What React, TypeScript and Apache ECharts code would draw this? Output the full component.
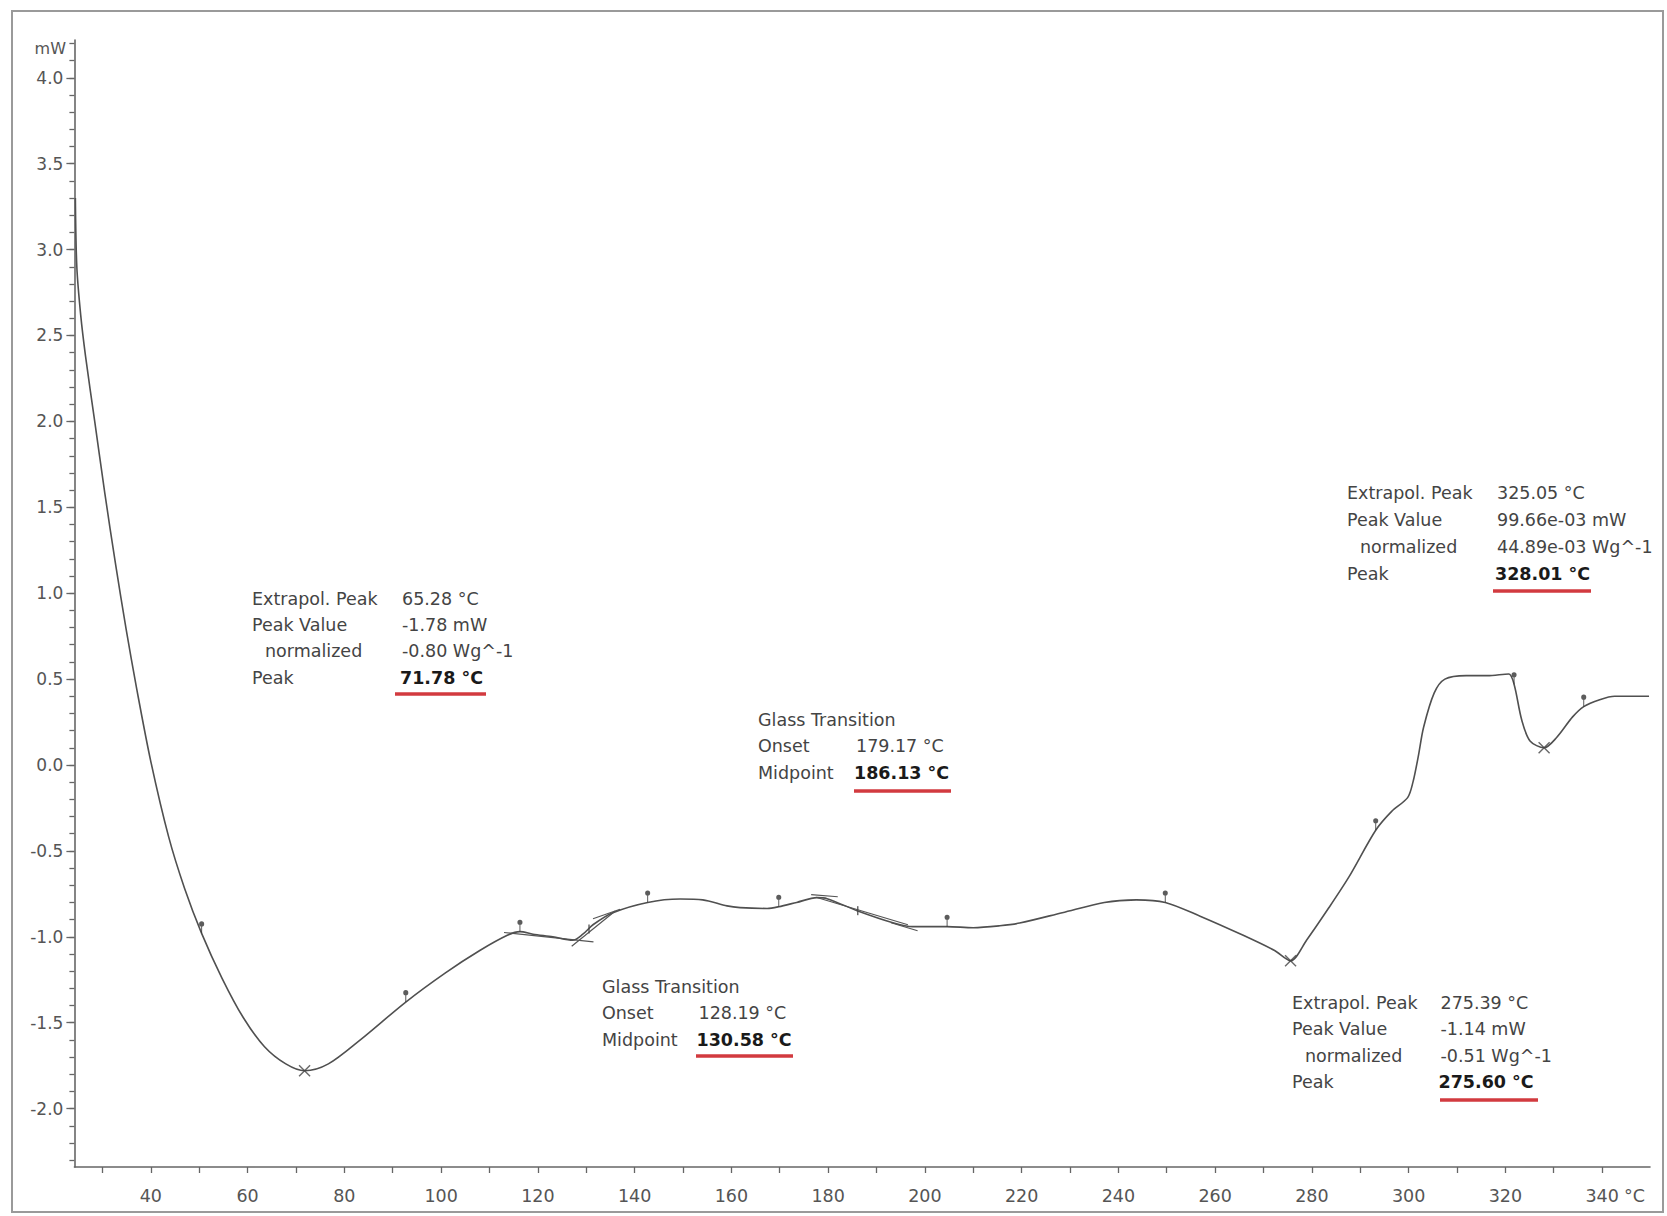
import React, { useEffect, useRef } from "react";
import * as echarts from "echarts";

// ---- data (°C, mW) ----
const temps = [
  24.4, 24.7, 25.5, 26.5, 28.4, 30.5, 32.7, 34.9, 37.1, 40.0, 43.7, 47.0, 50.5, 54.7, 59.1, 63.5, 67.9, 71.8,
  76.7, 83.3, 92.7, 100.9, 108.0, 113.8, 116.3, 119.0, 123.1, 127.2, 129.3, 131.4, 135.5, 142.7, 149.4, 154.1,
  159.1, 161.8, 167.4, 169.8, 173.5, 177.7, 179.8, 186.0, 193.4, 197.5, 204.6, 210.0, 215.5, 219.6, 228.4,
  237.1, 243.7, 249.7, 256.9, 265.7, 272.3, 275.6, 278.9, 283.3, 287.7, 293.2, 296.5, 299.8, 300.9, 302.0,
  303.1, 305.3, 307.5, 311.9, 316.3, 320.7, 321.8, 323.4, 325.1, 328.0, 330.6, 333.9, 336.2, 339.5, 342.6, 349.7,
];
const heat = [
  3.3, 2.9, 2.62, 2.38, 2.0, 1.58, 1.17, 0.79, 0.44, 0.02, -0.42, -0.72, -0.98, -1.24, -1.47, -1.64, -1.74, -1.78,
  -1.74, -1.6, -1.38, -1.21, -1.08, -0.99, -0.97, -0.985, -1.0, -1.02, -0.985, -0.93, -0.86, -0.8, -0.78, -0.785,
  -0.82, -0.83, -0.835, -0.825, -0.8, -0.772, -0.778, -0.848, -0.918, -0.941, -0.941, -0.947, -0.936, -0.92, -0.86,
  -0.8, -0.785, -0.8, -0.88, -0.99, -1.08, -1.14, -1.02, -0.84, -0.65, -0.38, -0.27, -0.19, -0.1, 0.05,
  0.22, 0.42, 0.5, 0.52, 0.52, 0.53, 0.47, 0.26, 0.14, 0.1, 0.16, 0.28, 0.34, 0.38, 0.4, 0.4,
];

const flagT = [50.5, 92.7, 116.3, 142.7, 169.8, 204.6, 249.7, 293.2, 321.8, 336.2];
const flagV = [-0.98, -1.38, -0.97, -0.8, -0.825, -0.941, -0.8, -0.38, 0.47, 0.34];

const peakT = [71.78, 275.6, 328.01];
const peakV = [-1.78, -1.14, 0.0997];

const midT = [130.58, 186.13];
const midV = [-0.955, -0.848];

// tangent construction lines of the glass transitions
const tangent1a = [[113.0, -0.975], [131.5, -1.03]];
const tangent1b = [[127.0, -1.055], [136.0, -0.85]];
const tangent1c = [[131.4, -0.895], [137.0, -0.84]];
const tangent2a = [[176.5, -0.755], [182.0, -0.767]];
const tangent2b = [[177.5, -0.77], [196.5, -0.93]];
const tangent2c = [[193.0, -0.918], [198.5, -0.965]];

const xLabelValues = [40, 60, 80, 100, 120, 140, 160, 180, 200, 220, 240, 260, 280, 300, 320, 340];
const xTickValues = [30, 40, 50, 60, 70, 80, 90, 100, 110, 120, 130, 140, 150, 160, 170, 180, 190, 200, 210, 220, 230, 240, 250, 260, 270, 280, 290, 300, 310, 320, 330, 340];
const yLabelValues = [-2.0, -1.5, -1.0, -0.5, 0.0, 0.5, 1.0, 1.5, 2.0, 2.5, 3.0, 3.5, 4.0];
const yMinorValues: number[] = [];
for (let k = -23; k <= 42; k++) yMinorValues.push(k / 10);

// annotation blocks
const peak1Rows = [["Extrapol. Peak", "65.28 °C"], ["Peak Value", "-1.78 mW"], ["  normalized", "-0.80 Wg^-1"], ["Peak", "71.78 °C"]];
const peak2Rows = [["Extrapol. Peak", "325.05 °C"], ["Peak Value", "99.66e-03 mW"], ["  normalized", "44.89e-03 Wg^-1"], ["Peak", "328.01 °C"]];
const peak3Rows = [["Extrapol. Peak", "275.39 °C"], ["Peak Value", "-1.14 mW"], ["  normalized", "-0.51 Wg^-1"], ["Peak", "275.60 °C"]];
const glass1Rows = [["Glass Transition", ""], ["Onset", "128.19 °C"], ["Midpoint", "130.58 °C"]];
const glass2Rows = [["Glass Transition", ""], ["Onset", "179.17 °C"], ["Midpoint", "186.13 °C"]];

const FONT = "DejaVu Sans";
const TXT = "#444";

function block(rows: string[][], lx: number, vx: number, ys: number[], ul: number[]) {
  const els: any[] = [];
  rows.forEach((r, i) => {
    const last = i === rows.length - 1;
    const indent = r[0].startsWith("  ");
    els.push({
      type: "text",
      x: lx + (indent ? 13 : 0),
      y: ys[i],
      style: { text: r[0].trim(), fontFamily: FONT, fontSize: 17.5, fill: TXT, align: "left", verticalAlign: "middle" },
      z: 10,
    });
    if (r[1]) {
      els.push({
        type: "text",
        x: last ? vx - 2 : vx,
        y: ys[i],
        style: {
          text: r[1],
          fontFamily: FONT,
          fontSize: 17.5,
          fontWeight: last ? "bold" : "normal",
          fill: last ? "#1a1a1a" : TXT,
          align: "left",
          verticalAlign: "middle",
        },
        z: 10,
      });
    }
  });
  els.push({
    type: "line",
    shape: { x1: ul[0], y1: ul[2], x2: ul[1], y2: ul[2] },
    style: { stroke: "#d23a3f", lineWidth: 3.5 },
    z: 10,
  });
  return els;
}

const xSymbol = "path://M0,0L10,10M10,0L0,10";
const flagSymbol = "path://M3,0A3,3 0 1 1 3,6A3,3 0 1 1 3,0ZM2.4,5L3.6,5L3.6,14L2.4,14Z";
const midSymbol = "path://M0,0L2,0L2,10L0,10Z";

export default function App() {
  const ref = useRef<HTMLDivElement>(null);
  useEffect(() => {
    const chart = echarts.init(ref.current!, null, { renderer: "svg" });
    const curve = temps.map((t, i) => [t, heat[i]]);
    const tangentSeries = [tangent1a, tangent1b, tangent1c, tangent2a, tangent2b, tangent2c].map((d) => ({
      type: "line",
      data: d,
      showSymbol: false,
      silent: true,
      lineStyle: { color: "#555", width: 1.2 },
      z: 3,
    }));
    const option: any = {
      animation: false,
      backgroundColor: "#fff",
      grid: { left: 74.4, top: 40, right: 17, bottom: 49, containLabel: false },
      xAxis: {
        type: "value",
        min: 24.2,
        max: 349.9,
        axisLine: { show: true, onZero: false, lineStyle: { color: "#666", width: 1.6 } },
        axisTick: { show: true, customValues: xTickValues, length: 6, lineStyle: { color: "#666", width: 1.3 } },
        axisLabel: {
          show: true,
          customValues: xLabelValues,
          margin: 20,
          fontFamily: FONT,
          fontSize: 17.5,
          color: "#555",
        },
        splitLine: { show: false },
      },
      yAxis: [
        {
          type: "value",
          min: -2.34,
          max: 4.22,
          axisLine: { show: true, onZero: false, lineStyle: { color: "#666", width: 1.6 } },
          axisTick: { show: true, customValues: yLabelValues, length: 8, lineStyle: { color: "#666", width: 1.3 } },
          axisLabel: {
            show: true,
            customValues: yLabelValues,
            margin: 11,
            fontFamily: FONT,
            fontSize: 17,
            color: "#555",
            formatter: (v: number) => v.toFixed(1),
          },
          splitLine: { show: false },
        },
        {
          type: "value",
          min: -2.34,
          max: 4.22,
          position: "left",
          axisLine: { show: false, onZero: false },
          axisTick: { show: true, customValues: yMinorValues, length: 5, lineStyle: { color: "#666", width: 1.3 } },
          axisLabel: { show: false },
          splitLine: { show: false },
        },
      ],
      series: [
        {
          type: "line",
          data: curve,
          showSymbol: false,
          smooth: 0.3,
          lineStyle: { color: "#505050", width: 1.6 },
          z: 4,
        },
        ...tangentSeries,
        {
          type: "scatter",
          data: flagT.map((t, i) => [t, flagV[i]]),
          symbol: flagSymbol,
          symbolSize: [5, 12],
          symbolOffset: [0, -6],
          itemStyle: { color: "#333" },
          z: 5,
        },
        {
          type: "scatter",
          data: peakT.map((t, i) => [t, peakV[i]]),
          symbol: xSymbol,
          symbolSize: 11,
          itemStyle: { color: "none", borderColor: "#444", borderWidth: 1.4 },
          z: 5,
        },
        {
          type: "scatter",
          data: midT.map((t, i) => [t, midV[i]]),
          symbol: midSymbol,
          symbolSize: [1.5, 9],
          itemStyle: { color: "#444" },
          z: 5,
        },
      ],
      graphic: [
        {
          type: "rect",
          shape: { x: 12, y: 11, width: 1651, height: 1201 },
          style: { fill: "none", stroke: "#9a9a9a", lineWidth: 2 },
          silent: true,
        },
        {
          type: "text",
          x: 66,
          y: 48,
          style: { text: "mW", fontFamily: FONT, fontSize: 16, fill: "#555", align: "right", verticalAlign: "middle" },
        },
        {
          type: "text",
          x: 1624,
          y: 1196,
          style: { text: "°C", fontFamily: FONT, fontSize: 17.5, fill: "#555", align: "left", verticalAlign: "middle" },
        },
        ...block(peak1Rows, 252, 402, [598.5, 625, 651, 677.5], [395, 486, 694]),
        ...block(peak2Rows, 1347, 1497, [493, 520, 546.5, 573.5], [1493, 1591, 591]),
        ...block(peak3Rows, 1292, 1440.5, [1002.5, 1029, 1055.5, 1082], [1440, 1538, 1100]),
        ...block(glass1Rows, 602, 698.5, [986.5, 1013, 1039.5], [696, 793, 1056]),
        ...block(glass2Rows, 758, 856, [720, 746, 773], [854, 951, 791]),
      ],
    };
    chart.setOption(option);
    return () => chart.dispose();
  }, []);
  return (
    <div
      ref={ref}
      style={{ position: "fixed", left: 0, top: 0, width: 1667, height: 1216, background: "#fff" }}
    />
  );
}
